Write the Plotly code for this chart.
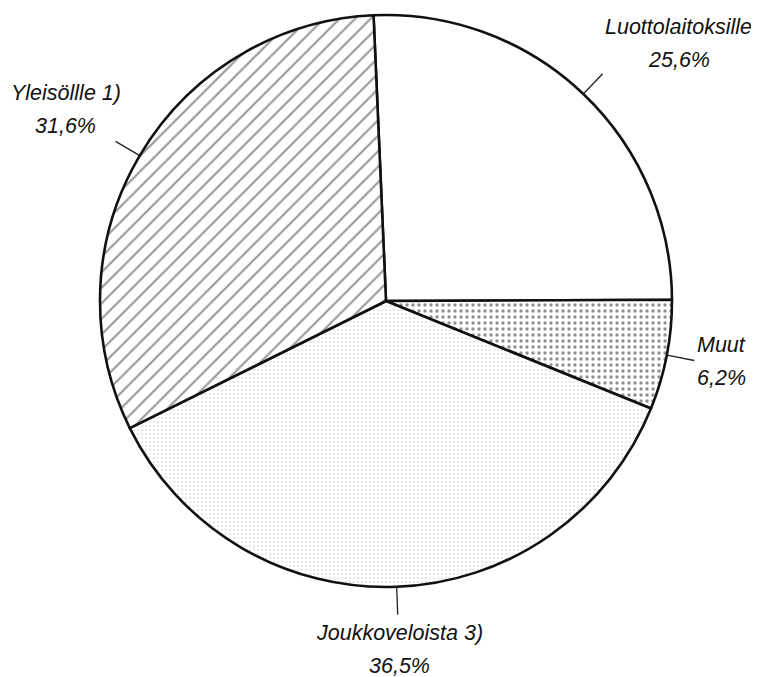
import math
import plotly.graph_objects as go

# ---- data ----
labels = ["Luottolaitoksille", "Muut", "Joukkoveloista 3)", "Yleisöllle 1)"]
values = [25.6, 6.2, 36.5, 31.6]
value_text = ["25,6%", "6,2%", "36,5%", "31,6%"]

# ---- geometry / style ----
WIN_W, WIN_H = 759, 677
PAGE_MARGIN = 8                    # default body margin of the html page
W, H = WIN_W - PAGE_MARGIN, WIN_H - PAGE_MARGIN
CX, CY, R = 386, 301, 286          # pie centre & radius in window pixels
ROT = -2.5                         # start angle (deg, clockwise from 12 o'clock)
LEAD = 28                          # leader line length, px
LINE_GAP = 33                      # px between the two label lines
# text-block centre offset from the leader end (px)
OFFSETS = [(76, -30), (27, 1), (2, 35), (-50, -32)]
FONT = dict(family="Liberation Sans, Arial, sans-serif", size=21.5, color="#111111")


def px2paper(x, y):
    """window pixel -> paper coords of the figure"""
    return (x - PAGE_MARGIN) / W, 1 - (y - PAGE_MARGIN) / H


dx0, dy0 = px2paper(CX - R, CY + R)
dx1, dy1 = px2paper(CX + R, CY - R)

fig = go.Figure(go.Pie(
    labels=labels,
    values=values,
    sort=False,
    direction="clockwise",
    rotation=ROT,
    textinfo="none",
    hoverinfo="label+percent",
    showlegend=False,
    domain=dict(x=[dx0, dx1], y=[dy0, dy1]),
    marker=dict(
        colors=["white", "white", "white", "white"],
        line=dict(color="#111111", width=2.6),
        pattern=dict(
            shape=["", ".", ".", "/"],
            fgcolor=["#222222", "#222222", "#c4c4c4", "#333333"],
            bgcolor=["white", "white", "white", "white"],
            size=[8, 6, 4, 11],
            solidity=[0.0, 0.26, 0.18, 0.2],
            fillmode="overlay",
        ),
    ),
))

total = sum(values)
cum = 0.0
shapes, annots = [], []
for i, v in enumerate(values):
    mid = ROT + (cum + v / 2) / total * 360.0
    cum += v
    a = math.radians(mid)
    x0, y0 = CX + R * math.sin(a), CY - R * math.cos(a)
    x1, y1 = CX + (R + LEAD) * math.sin(a), CY - (R + LEAD) * math.cos(a)
    p0, p1 = px2paper(x0, y0), px2paper(x1, y1)
    shapes.append(dict(type="line", xref="paper", yref="paper",
                       x0=p0[0], y0=p0[1], x1=p1[0], y1=p1[1],
                       line=dict(color="#222222", width=1.3)))
    bx, by = x1 + OFFSETS[i][0], y1 + OFFSETS[i][1]
    for txt, ly in ((labels[i], by - LINE_GAP / 2), (value_text[i], by + LINE_GAP / 2)):
        tp = px2paper(bx, ly)
        annots.append(dict(xref="paper", yref="paper", x=tp[0], y=tp[1],
                           xanchor="center", yanchor="middle", showarrow=False,
                           text=f"<i>{txt}</i>", font=FONT, borderpad=0))

fig.update_layout(
    width=W, height=H,
    margin=dict(l=0, r=0, t=0, b=0),
    paper_bgcolor="white", plot_bgcolor="white",
    shapes=shapes, annotations=annots,
)

fig.write_html("out.html")
